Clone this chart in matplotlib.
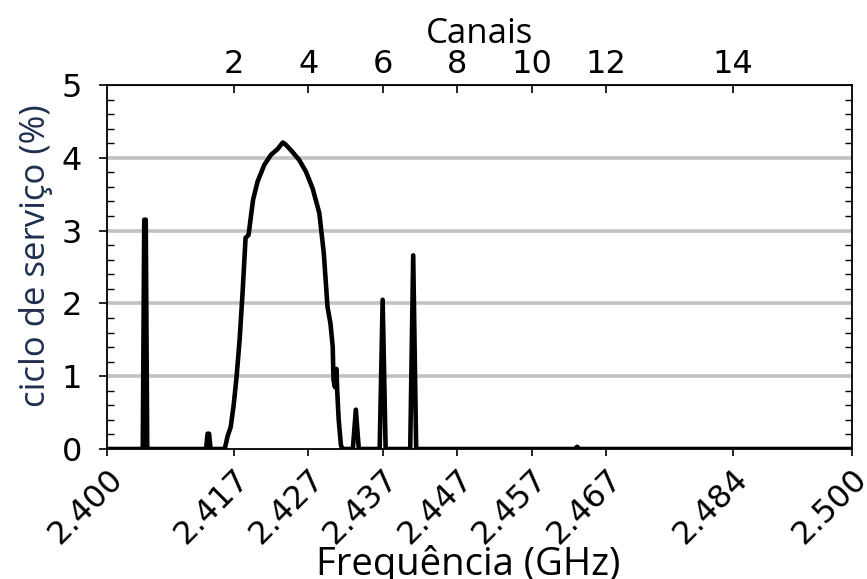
import matplotlib
matplotlib.use("Agg")
import matplotlib.pyplot as plt
from matplotlib.ticker import MultipleLocator

# Frequency (GHz) and duty cycle (%)
freq = [2.4000, 2.4048, 2.4050, 2.4052, 2.4054, 2.4056,
        2.4133, 2.4135, 2.4137, 2.4139,
        2.4158, 2.4162, 2.4166, 2.4170, 2.4174, 2.4178, 2.4182, 2.4186,
        2.4190, 2.4196, 2.4202, 2.4211, 2.4220, 2.4229, 2.4236, 2.4240,
        2.4249, 2.4258, 2.4267, 2.4276, 2.4285, 2.4291, 2.4296, 2.4300,
        2.4303, 2.4304, 2.4306, 2.4308, 2.4309, 2.4311, 2.4314, 2.4316,
        2.4318, 2.4330, 2.4334, 2.4338, 2.4366, 2.4370, 2.4374,
        2.4407, 2.4411, 2.4415, 2.4628, 2.4631, 2.4634, 2.5000]
duty = [0.00, 0.00, 3.15, 3.15, 0.00, 0.00,
        0.00, 0.21, 0.21, 0.00,
        0.00, 0.18, 0.30, 0.60, 1.00, 1.50, 2.15, 2.90,
        2.94, 3.42, 3.67, 3.90, 4.04, 4.12, 4.21, 4.18,
        4.08, 3.97, 3.81, 3.58, 3.24, 2.69, 1.95, 1.72,
        1.40, 0.95, 0.85, 1.10, 0.80, 0.40, 0.05, 0.00,
        0.00, 0.00, 0.54, 0.00, 0.00, 2.05, 0.00,
        0.00, 2.66, 0.00, 0.00, 0.03, 0.00, 0.00]

freq_ticks = [2.400, 2.417, 2.427, 2.437, 2.447, 2.457, 2.467, 2.484, 2.500]
freq_labels = ["2.400", "2.417", "2.427", "2.437", "2.447", "2.457", "2.467", "2.484", "2.500"]
chan_ticks = [2.417, 2.427, 2.437, 2.447, 2.457, 2.467, 2.484]
chan_labels = ["2", "4", "6", "8", "10", "12", "14"]

TICK_FONT = "DejaVu Sans"
LABEL_FONT = "Open Sans"

fig = plt.figure(figsize=(8.67, 5.79), dpi=100)
ax = fig.add_axes([107/867, 1 - 449/579, (852 - 107)/867, (449 - 85)/579])

for y in [1, 2, 3, 4]:
    ax.axhline(y, color="#c2c2c2", lw=2.6, zorder=1)

ax.plot(freq, duty, color="black", lw=3.3, solid_joinstyle="round", zorder=3)

ax.set_xlim(2.400, 2.500)
ax.set_ylim(0, 5)
ax.set_xticks(freq_ticks)
ax.set_xticklabels(freq_labels, rotation=45, ha="right", rotation_mode="anchor",
                   family=TICK_FONT, fontsize=23)
ax.set_yticks([0, 1, 2, 3, 4, 5])
ax.set_yticklabels(["0", "1", "2", "3", "4", "5"], family=TICK_FONT, fontsize=23)
ax.yaxis.set_minor_locator(MultipleLocator(0.2))
ax.tick_params(axis="x", which="major", direction="out", length=5, width=1.2, pad=5)
ax.tick_params(axis="y", which="major", direction="out", length=6, width=1.2, pad=12)
ax.tick_params(axis="y", which="minor", direction="in", length=5, width=1.0,
               right=True, left=True)
for s in ax.spines.values():
    s.set_linewidth(1.3)

ax.set_xlabel("Frequência (GHz)", family=LABEL_FONT, fontsize=27.5, va="baseline")
ax.xaxis.set_label_coords(0.485, -0.346)
ax.set_ylabel("ciclo de serviço (%)", family=LABEL_FONT, fontsize=25,
              color="#1f2f4f")
ax.yaxis.set_label_coords(-0.072, 0.53)

top = ax.secondary_xaxis("top")
top.set_xticks(chan_ticks)
top.set_xticklabels(chan_labels, family=TICK_FONT, fontsize=23)
top.tick_params(direction="in", length=6, width=1.2, pad=3.5)
top.set_xlabel("Canais", family=LABEL_FONT, fontsize=25, labelpad=4.5)

fig.savefig("out.png", dpi=100)
